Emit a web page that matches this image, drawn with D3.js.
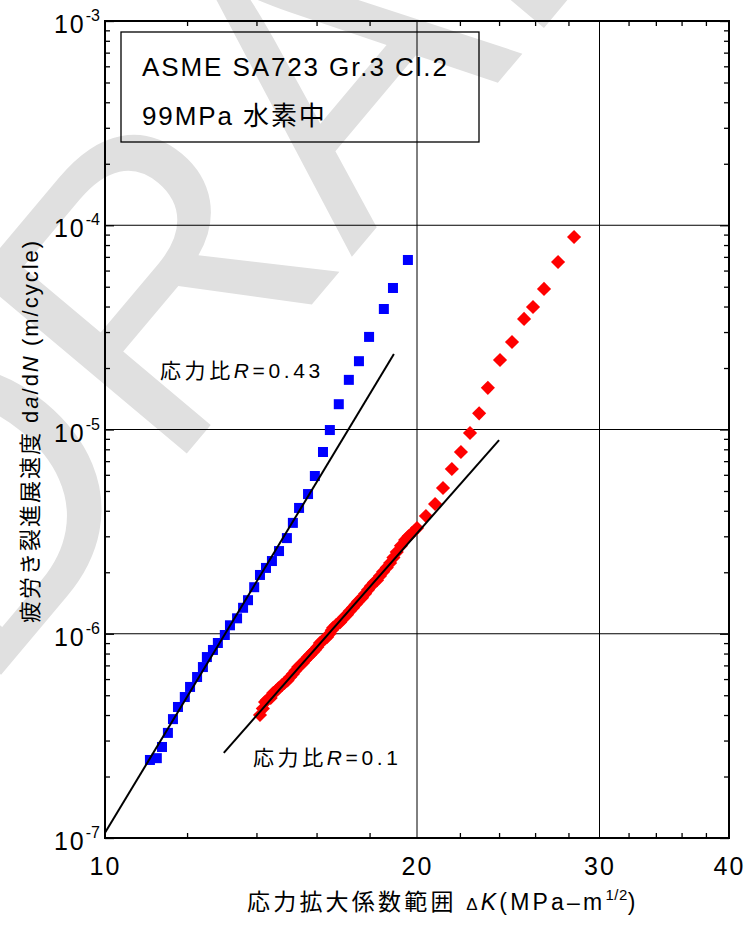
<!DOCTYPE html>
<html>
<head>
<meta charset="utf-8">
<script src="https://cdn.jsdelivr.net/npm/d3@7"></script>
<style>
  body { margin: 0; background: #fff; }
  text { font-family: "Liberation Sans", "Noto Sans CJK JP", sans-serif; }
</style>
</head>
<body>
<div id="chart"></div>
<script>
// R = 0.43 (blue squares)
const kR043 = [11.05, 11.22, 11.35, 11.50, 11.63, 11.76, 11.94, 12.08, 12.27, 12.43,
  12.54, 12.71, 12.85, 13.05, 13.20, 13.41, 13.59, 13.74, 13.93, 14.11,
  14.30, 14.49, 14.72, 14.98, 15.18, 15.39, 15.70, 15.94, 16.23, 16.48,
  16.81, 17.19, 17.58, 17.98, 18.58, 18.96, 19.60];
const rateR043 = [2.41e-7, 2.46e-7, 2.79e-7, 3.27e-7, 3.82e-7, 4.38e-7, 4.90e-7, 5.49e-7, 6.14e-7, 6.87e-7,
  7.69e-7, 8.33e-7, 9.01e-7, 9.86e-7, 1.10e-6, 1.19e-6, 1.34e-6, 1.46e-6, 1.69e-6, 1.94e-6,
  2.10e-6, 2.27e-6, 2.54e-6, 2.94e-6, 3.49e-6, 4.13e-6, 4.83e-6, 5.92e-6, 7.76e-6, 9.94e-6,
  1.33e-5, 1.75e-5, 2.16e-5, 2.84e-5, 3.89e-5, 4.93e-5, 6.76e-5];

// R = 0.1 (red diamonds)
const kR01 = [14.11, 14.20, 14.27, 14.33, 14.45, 14.53, 14.62, 14.70, 14.82, 14.90,
  15.00, 15.09, 15.18, 15.27, 15.36, 15.45, 15.52, 15.60, 15.70, 15.78,
  15.87, 15.95, 16.03, 16.12, 16.20, 16.30, 16.38, 16.47, 16.55, 16.60,
  16.70, 16.78, 16.86, 16.95, 17.03, 17.12, 17.22, 17.35, 17.45, 17.55,
  17.70, 17.82, 17.94, 18.05, 18.18, 18.30, 18.42, 18.55, 18.70, 18.84,
  18.98, 19.12, 19.30, 19.48, 19.63, 19.78, 20.00, 20.40, 20.82, 21.19,
  21.61, 22.05, 22.50, 22.96, 23.41, 24.05, 24.70, 25.37, 25.88, 26.52,
  27.36, 28.35];
const rateR01 = [4.00e-7, 4.30e-7, 4.63e-7, 4.74e-7, 4.85e-7, 5.13e-7, 5.25e-7, 5.40e-7, 5.61e-7, 5.75e-7,
  5.90e-7, 6.14e-7, 6.35e-7, 6.60e-7, 6.87e-7, 7.05e-7, 7.20e-7, 7.44e-7, 7.70e-7, 7.90e-7,
  8.14e-7, 8.35e-7, 8.62e-7, 9.01e-7, 9.20e-7, 9.45e-7, 9.64e-7, 1.00e-6, 1.04e-6, 1.07e-6,
  1.10e-6, 1.12e-6, 1.14e-6, 1.18e-6, 1.21e-6, 1.24e-6, 1.29e-6, 1.34e-6, 1.39e-6, 1.44e-6,
  1.50e-6, 1.57e-6, 1.64e-6, 1.71e-6, 1.78e-6, 1.83e-6, 1.92e-6, 2.01e-6, 2.11e-6, 2.22e-6,
  2.36e-6, 2.51e-6, 2.70e-6, 2.88e-6, 3.00e-6, 3.11e-6, 3.29e-6, 3.77e-6, 4.32e-6, 5.17e-6,
  6.41e-6, 7.76e-6, 9.61e-6, 1.20e-5, 1.60e-5, 2.19e-5, 2.68e-5, 3.48e-5, 3.98e-5, 4.88e-5,
  6.61e-5, 8.76e-5];

// fitted Paris-law lines (end points)
const fitR043K = [10, 19.0];
const fitR043Rate = [1.06e-7, 2.34e-5];
const fitR01K = [13.02, 24.0];
const fitR01Rate = [2.61e-7, 8.88e-6];

const xMajor = [10, 20, 30, 40];
const xMinor = [12, 14, 16, 18, 22, 24, 26, 28, 32, 34, 36, 38];
const yMajor = [1e-7, 1e-6, 1e-5, 1e-4, 1e-3];
const xGrid = [20, 30];
const yGrid = [1e-6, 1e-5, 1e-4];

const width = 747, height = 926;
const margin = { top: 21, right: 18, bottom: 88, left: 105 };

const svg = d3.select('#chart').append('svg')
  .attr('width', width)
  .attr('height', height);

svg.append('rect').attr('width', width).attr('height', height).attr('fill', '#fff');

// watermark (runs off the page like in the original)
svg.append('g')
  .attr('transform', 'translate(-20,700) rotate(-50)')
  .append('text')
  .attr('font-family', '"Liberation Serif", serif')
  .attr('font-size', 400)
  .attr('fill', '#e0e0e0')
  .text('DRAFT');

const x = d3.scaleLog().domain([10, 40]).range([margin.left, width - margin.right]);
const y = d3.scaleLog().domain([1e-7, 1e-3]).range([height - margin.bottom, margin.top]);

const x0 = x.range()[0], x1 = x.range()[1];
const y0 = y.range()[0], y1 = y.range()[1];

// minor y ticks 2..9 per decade
const yMinor = [];
yMajor.slice(0, -1).forEach(d => { for (let m = 2; m <= 9; m++) yMinor.push(d * m); });

// grid
svg.append('g').selectAll('line').data(xGrid).join('line')
  .attr('x1', d => x(d)).attr('x2', d => x(d))
  .attr('y1', y1).attr('y2', y0)
  .attr('stroke', '#000').attr('stroke-width', 1);
svg.append('g').selectAll('line').data(yGrid).join('line')
  .attr('x1', x0).attr('x2', x1)
  .attr('y1', d => y(d)).attr('y2', d => y(d))
  .attr('stroke', '#000').attr('stroke-width', 1);

// ticks (inward) on all four sides
function tickStyle(g) {
  g.select('.domain').remove();
  g.selectAll('.tick line').attr('stroke', '#000').attr('stroke-width', 1.3);
}
svg.append('g').attr('transform', `translate(0,${y0})`)
  .call(d3.axisBottom(x).tickValues(xMinor).tickSize(-5).tickFormat(''))
  .call(tickStyle);
svg.append('g').attr('transform', `translate(0,${y1})`)
  .call(d3.axisTop(x).tickValues(xMinor).tickSize(-5).tickFormat(''))
  .call(tickStyle);
svg.append('g').attr('transform', `translate(${x0},0)`)
  .call(d3.axisLeft(y).tickValues(yMinor).tickSize(-5).tickFormat(''))
  .call(tickStyle);
svg.append('g').attr('transform', `translate(${x1},0)`)
  .call(d3.axisRight(y).tickValues(yMinor).tickSize(-5).tickFormat(''))
  .call(tickStyle);
svg.append('g').attr('transform', `translate(${x0},0)`)
  .call(d3.axisLeft(y).tickValues(yMajor).tickSize(-9).tickFormat(''))
  .call(tickStyle);
svg.append('g').attr('transform', `translate(${x1},0)`)
  .call(d3.axisRight(y).tickValues(yMajor).tickSize(-9).tickFormat(''))
  .call(tickStyle);

// x tick labels
svg.append('g').attr('transform', `translate(0,${y0})`)
  .call(d3.axisBottom(x).tickValues(xMajor).tickSize(0).tickPadding(19).tickFormat(d3.format('d')))
  .call(g => g.select('.domain').remove())
  .call(g => g.selectAll('text')
    .attr('font-size', 25).attr('fill', '#000')
    .attr('font-family', '"Liberation Sans", sans-serif')
    .attr('letter-spacing', 2));

// y tick labels with superscript exponents
const yl = svg.append('g').selectAll('text').data(yMajor).join('text')
  .attr('x', x0 - 5)
  .attr('y', d => y(d) + 12)
  .attr('text-anchor', 'end')
  .attr('font-size', 25)
  .attr('letter-spacing', 2);
yl.append('tspan').text('10');
yl.append('tspan').attr('font-size', 16).attr('dy', -12).attr('letter-spacing', 0)
  .text(d => '-' + Math.round(-Math.log10(d)));

// frame
svg.append('rect')
  .attr('x', x0).attr('y', y1)
  .attr('width', x1 - x0).attr('height', y0 - y1)
  .attr('fill', 'none').attr('stroke', '#000').attr('stroke-width', 2);

// data points
const blue = kR043.map((k, i) => [k, rateR043[i]]);
const red = kR01.map((k, i) => [k, rateR01[i]]);

svg.append('g').selectAll('rect').data(blue).join('rect')
  .attr('x', d => x(d[0]) - 5).attr('y', d => y(d[1]) - 5)
  .attr('width', 10).attr('height', 10)
  .attr('fill', '#0000ff');

const diamond = d3.symbol().type(d3.symbolSquare).size(100);
svg.append('g').selectAll('path').data(red).join('path')
  .attr('d', diamond)
  .attr('transform', d => `translate(${x(d[0])},${y(d[1])}) rotate(45)`)
  .attr('fill', '#ff0000');

// fit lines
const line = d3.line().x(d => x(d[0])).y(d => y(d[1]));
[[fitR043K, fitR043Rate], [fitR01K, fitR01Rate]].forEach(([ks, rs]) => {
  svg.append('path')
    .datum(ks.map((k, i) => [k, rs[i]]))
    .attr('d', line)
    .attr('fill', 'none').attr('stroke', '#000').attr('stroke-width', 2);
});

// annotations
function ratioLabel(px, py, val) {
  const t = svg.append('text').attr('x', px).attr('y', py)
    .attr('font-size', 21).attr('letter-spacing', 3.6);
  t.append('tspan').text('応力比');
  t.append('tspan').attr('font-style', 'italic').text('R');
  t.append('tspan').text('=' + val);
}
ratioLabel(160, 378, '0.43');
ratioLabel(253, 765, '0.1');

// material box
svg.append('rect')
  .attr('x', 121).attr('y', 32).attr('width', 358).attr('height', 110)
  .attr('fill', 'none').attr('stroke', '#000').attr('stroke-width', 1.3);
svg.append('text').attr('x', 142).attr('y', 76)
  .attr('font-size', 26).attr('letter-spacing', 1.9)
  .text('ASME SA723 Gr.3 Cl.2');
svg.append('text').attr('x', 142).attr('y', 125)
  .attr('font-size', 26).attr('letter-spacing', 1.9)
  .text('99MPa 水素中');

// x axis title
const xt = svg.append('text').attr('x', 247).attr('y', 910)
  .attr('font-size', 23).attr('letter-spacing', 3.2);
xt.append('tspan').text('応力拡大係数範囲 ');
xt.append('tspan').attr('font-size', 17).text('Δ');
xt.append('tspan').attr('font-style', 'italic').text('K');
xt.append('tspan').text('(MPa–m');
xt.append('tspan').attr('font-size', 15).attr('dy', -10).attr('letter-spacing', 0.5).text('1/2');
xt.append('tspan').attr('dy', 10).text(')');

// y axis title
const yt = svg.append('text')
  .attr('transform', 'translate(38,431) rotate(-90)')
  .attr('text-anchor', 'middle')
  .attr('font-size', 22).attr('letter-spacing', 2);
yt.append('tspan').text('疲労き裂進展速度 d');
yt.append('tspan').attr('font-style', 'italic').text('a');
yt.append('tspan').text('/d');
yt.append('tspan').attr('font-style', 'italic').text('N');
yt.append('tspan').text(' (m/cycle)');
</script>
</body>
</html>
